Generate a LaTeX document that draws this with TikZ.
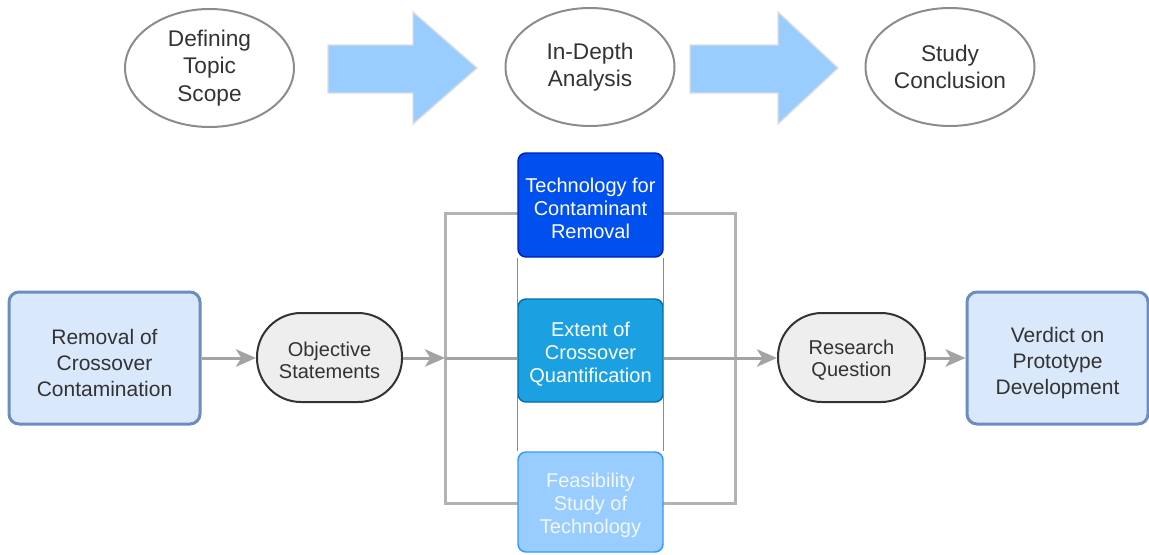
\documentclass[tikz,border=0pt]{standalone}
\usepackage{fontspec}
\setmainfont{Liberation Sans}
\usetikzlibrary{arrows.meta,shapes.geometric}
\definecolor{txt}{HTML}{333333}
\definecolor{ellline}{HTML}{8C8C8C}
\definecolor{flow}{HTML}{A3A3A3}
\definecolor{frameline}{HTML}{B3B3B3}
\definecolor{thinline}{HTML}{8A8A8A}
\definecolor{lightfill}{HTML}{DAE8FC}
\definecolor{lightline}{HTML}{6C8EBF}
\definecolor{termfill}{HTML}{EEEEEE}
\definecolor{termline}{HTML}{333333}
\definecolor{bigarrowfill}{HTML}{99CCFF}
\definecolor{bigarrowline}{HTML}{DDDDDD}
\definecolor{deepfill}{HTML}{0050EF}
\definecolor{deepline}{HTML}{001DBC}
\definecolor{midfill}{HTML}{1BA1E2}
\definecolor{midline}{HTML}{006EAF}
\definecolor{palefill}{HTML}{99CCFF}
\definecolor{paleline}{HTML}{3399FF}
\definecolor{paletext}{HTML}{F2F8FF}
\tikzset{
  phase/.style={ellipse, draw=ellline, line width=1.5pt, text=txt, align=center,
    minimum width=126.75pt, minimum height=88.5pt, inner sep=0pt,
    font=\fontsize{17}{20.6}\selectfont},
  endbox/.style={draw=lightline, fill=lightfill, line width=2.25pt, rounded corners=7.5pt,
    minimum width=#1, minimum height=99pt, inner sep=0pt},
  endtext/.style={text=txt, align=center, inner sep=0pt, yshift=-4pt,
    font=\fontsize{15.75}{19.5}\selectfont},
  terminal/.style={draw=termline, fill=termfill, line width=1.5pt, rounded corners=33pt,
    minimum width=#1, minimum height=66.75pt, inner sep=0pt},
  termtext/.style={text=txt, align=center, inner sep=0pt, yshift=-2pt,
    font=\fontsize{15}{16.5}\selectfont},
  topic/.style={line width=1.1pt, rounded corners=6pt,
    minimum width=108.75pt, inner sep=0pt},
  topictext/.style={text=#1, align=center, inner sep=0pt, yshift=-2.5pt,
    font=\fontsize{15}{17.25}\selectfont},
  flowarrow/.style={draw=flow, line width=2.25pt,
    -{Stealth[length=15pt, width=13pt, inset=4pt, fill=flow]}},
  bigarrow/.style={fill=bigarrowfill, draw=bigarrowline, line width=1pt, line join=miter},
}
\begin{document}
\begin{tikzpicture}[x=0.75pt, y=-0.75pt]
\useasboundingbox (0,0) rectangle (1149,554);

% three-stage header
\node[phase] (scope) at (209.5,68) {Defining\\Topic\\Scope};
\node[phase] (depth) at (590,67) {In-Depth\\Analysis};
\node[phase] (concl) at (950,67) {Study\\Conclusion};
\draw[bigarrow] (328,45) -- (413,45) -- (413,12) -- (477,68) -- (413,124) -- (413,93) -- (328,93) -- cycle;
\draw[bigarrow] (690,45) -- (778,45) -- (778,12) -- (838,68) -- (778,124) -- (778,93) -- (690,93) -- cycle;

% branching frame behind the three topic boxes
\coordinate (fork) at (445,358);
\coordinate (frameNW) at (445,213);
\coordinate (frameSE) at (735,503);
\draw[frameline, line width=2.25pt] (frameNW) rectangle (frameSE);

% topic boxes
\node[topic, draw=deepline, fill=deepfill, minimum height=78pt,
  label={[topictext=white]center:{Technology for\\Contaminant\\Removal}}] (tech) at (590.5,205) {};
\node[topic, draw=midline, fill=midfill, minimum height=77.25pt,
  label={[topictext=white]center:{Extent of\\Crossover\\Quantification}}] (extent) at (590.5,350.5) {};
\node[topic, draw=paleline, fill=palefill, minimum height=75pt,
  label={[topictext=paletext]center:{Feasibility\\Study of\\Technology}}] (feas) at (590.5,502) {};

% thin side rails joining the topic boxes
\draw[thinline, line width=0.9pt] (tech.south west) -- (feas.north west);
\draw[thinline, line width=0.9pt] (tech.south east) -- (feas.north east);

% main flow
\node[endbox=143.25pt, label={[endtext]center:{Removal of\\Crossover\\Contamination}}] (removal) at (104.5,358) {};
\node[terminal=108.75pt, label={[termtext]center:{Objective\\Statements}}] (obj) at (329.5,357.5) {};
\node[terminal=110.25pt, label={[termtext]center:{Research\\Question}}] (rq) at (851.5,357.5) {};
\node[endbox=135.75pt, label={[endtext]center:{Verdict on\\Prototype\\Development}}] (verdict) at (1057.5,358) {};

\draw[flowarrow] (removal.east |- 0,358) -- (obj.west |- 0,358);
\draw[flowarrow] (obj.east |- 0,358) -- (fork);
\draw[draw=flow, line width=2.25pt] (fork) -- (extent.west |- fork);
\draw[flowarrow] (extent.east |- fork) -- (rq.west |- fork);
\draw[flowarrow] (rq.east |- fork) -- (verdict.west |- fork);
\end{tikzpicture}
\end{document}
